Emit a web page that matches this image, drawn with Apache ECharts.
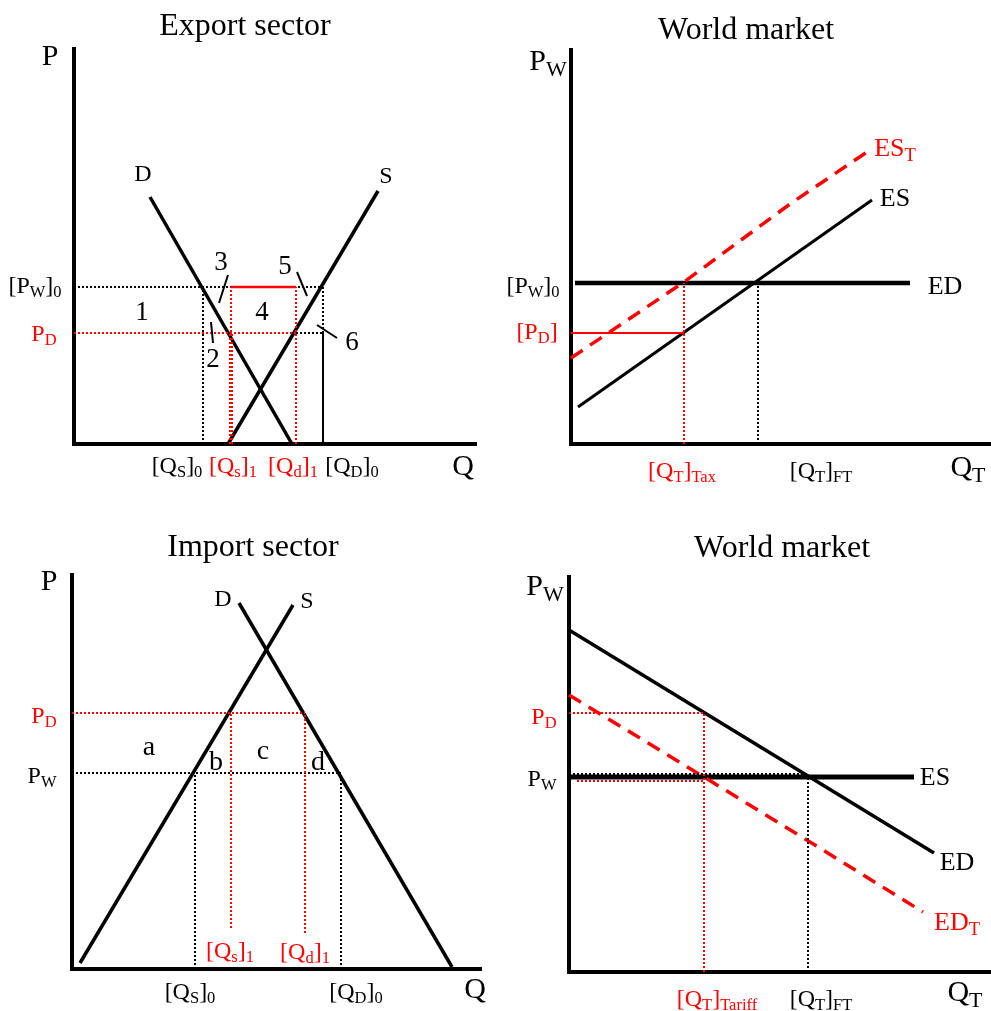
<!DOCTYPE html>
<html>
<head>
<meta charset="utf-8">
<script src="https://cdn.jsdelivr.net/npm/echarts@6/dist/echarts.min.js"></script>
<style>
  html, body { margin: 0; padding: 0; background: #fff; }
  #main { width: 991px; height: 1011px; }
</style>
</head>
<body>
<div id="main"></div>
<script>
// ---- data, in axis units (origin at the axis corner of each panel) ----
// Export sector
const expDemand = [[76, 247], [218, 0]];
const expSupply = [[154, 0], [304, 253]];
const expPrice = { pw0: 157, pd: 111 };
const expQty = { qs0: 129, qs1: 157, qd1: 222, qd0: 249 };

// World market (export tax)
const wm1ED = [[4, 161], [339, 161]];
const wm1ES = [[7, 37], [301, 244]];
const wm1EST = [[0, 86], [113, 162], [219, 240], [296, 292]];
const wm1Price = { pw0: 161, pd: 111 };
const wm1Qty = { tax: 113, ft: 187 };

// Import sector
const impSupply = [[8, 6], [221, 364]];
const impDemand = [[167, 366], [380, 2]];
const impPrice = { pd: 256, pw: 196 };
const impQty = { qs0: 123, qs1: 159, qd1: 233, qd0: 269 };

// World market (import tariff)
const wm2ED = [[0, 342], [365, 119]];
const wm2ES = [[0, 195], [345, 195]];
const wm2EDT = [[0, 277], [135, 195], [241, 130], [354, 60]];
const wm2Price = { pd: 259, pw: 195 };
const wm2Qty = { tariff: 135, ft: 239 };

const titles = ['Export sector', 'World market', 'Import sector', 'World market'];

// ---- styling ----
const FONT = '"Liberation Serif", "Times New Roman", serif';
const RED = '#ff0000';
function rs(size, color, padTop) {
  const s = { fontFamily: FONT, fontSize: size, color: color, opacity: 1 };
  if (padTop) s.padding = [padTop, 0, 0, 0];
  return s;
}
const RICH = {
  t: rs(24, '#000'), ts: rs(16.5, '#000', 12),
  rt: rs(24, RED), rts: rs(16.5, RED, 12),
  ax: rs(30, '#000'), axs: rs(22, '#000', 17),
  c: rs(26, '#000'), cs: rs(18.5, '#000', 15),
  rc: rs(26, RED), rcs: rs(18.5, RED, 15),
  n: rs(27, '#000'),
  l: rs(28, '#000')
};

const grids = [
  { left: 74, top: 49, width: 401, height: 395 },
  { left: 571, top: 50, width: 420, height: 394 },
  { left: 72, top: 575, width: 408, height: 394 },
  { left: 569, top: 577, width: 422, height: 395 }
];
const titlePos = [[240, 6], [741, 10], [248, 527], [777, 528]];

function axis(i, max) {
  return {
    type: 'value', gridIndex: i, min: 0, max: max,
    axisLine: { show: true, onZero: false, lineStyle: { color: '#000', width: 4, cap: 'square' } },
    axisTick: { show: false }, axisLabel: { show: false }, splitLine: { show: false }
  };
}

function line(i, data, color, width, type) {
  return {
    type: 'line', xAxisIndex: i, yAxisIndex: i, data: data, symbol: 'none',
    silent: true, clip: false,
    lineStyle: { color: color, width: width, type: type || 'solid' }
  };
}
const DOT = [2, 2];
const DASH = [14, 9];

function texts(i, items) {
  return {
    type: 'scatter', xAxisIndex: i, yAxisIndex: i, symbolSize: 1, clip: false, silent: true,
    itemStyle: { color: '#000', opacity: 0 },
    data: items.map(t => ({ name: t[2], value: [t[0], t[1]] })),
    label: {
      show: true, position: [0.5, 0.5], align: 'center', verticalAlign: 'middle',
      formatter: '{b}', color: '#000', opacity: 1, textBorderWidth: 0, rich: RICH
    },
    z: 10
  };
}

const series = [];

// Panel 0: export sector
(function () {
  const P = expPrice, Q = expQty;
  series.push(
    line(0, expDemand, '#000', 3.5),
    line(0, expSupply, '#000', 3.5),
    line(0, [[0, P.pw0], [Q.qd0, P.pw0]], '#000', 2, DOT),
    line(0, [[0, P.pd], [Q.qd1, P.pd]], RED, 2, DOT),
    line(0, [[Q.qd1, P.pd], [Q.qd0, P.pd]], '#000', 2, DOT),
    line(0, [[Q.qs1, P.pw0], [Q.qd1, P.pw0]], RED, 2.5),
    line(0, [[Q.qs0, 0], [Q.qs0, P.pw0]], '#000', 2, DOT),
    line(0, [[Q.qs1, 0], [Q.qs1, P.pw0]], RED, 2, DOT),
    line(0, [[Q.qs1, 0], [Q.qs1, P.pd]], RED, 4, DOT),
    line(0, [[Q.qd1, 0], [Q.qd1, P.pw0]], RED, 2, DOT),
    line(0, [[Q.qd0, P.pd], [Q.qd0, P.pw0]], '#000', 2, DOT),
    line(0, [[Q.qd0, 0], [Q.qd0, P.pd]], '#000', 2),
    // leader lines for the area numbers
    line(0, [[154, 169], [145, 141]], '#000', 2),
    line(0, [[223, 172], [233, 148]], '#000', 2),
    line(0, [[137, 122], [139, 101]], '#000', 2),
    line(0, [[243, 119], [263, 106]], '#000', 2),
    texts(0, [
      [69, 269, '{t|D}'], [312, 267, '{t|S}'],
      [68, 131, '{n|1}'], [139, 84, '{n|2}'], [147, 181, '{n|3}'],
      [188, 131, '{n|4}'], [211, 177, '{n|5}'], [278, 101, '{n|6}'],
      [-24, 387, '{ax|P}'], [389, -23, '{ax|Q}'],
      [-39, 157, '{t|[P}{ts|W}{t|]}{ts|0}'], [-30, 109, '{rt|P}{rts|D}'],
      [103, -23, '{t|[Q}{ts|S}{t|]}{ts|0}'], [159, -23, '{rt|[Q}{rts|s}{rt|]}{rts|1}'],
      [219, -23, '{rt|[Q}{rts|d}{rt|]}{rts|1}'], [278, -23, '{t|[Q}{ts|D}{t|]}{ts|0}']
    ])
  );
})();

// Panel 1: world market, export tax
(function () {
  const P = wm1Price, Q = wm1Qty;
  series.push(
    line(1, wm1ED, '#000', 4.5),
    line(1, wm1ES, '#000', 3),
    line(1, wm1EST, RED, 3.5, DASH),
    line(1, [[0, P.pd], [Q.tax, P.pd]], RED, 2),
    line(1, [[Q.tax, 0], [Q.tax, P.pw0]], RED, 2, DOT),
    line(1, [[Q.ft, 0], [Q.ft, P.pw0]], '#000', 2, DOT),
    texts(1, [
      [374, 157, '{c|ED}'], [324, 245, '{c|ES}'], [324, 295, '{rc|ES}{rcs|T}'],
      [-34, 111, '{rt|[P}{rts|D}{rt|]}'], [-38, 157, '{t|[P}{ts|W}{t|]}{ts|0}'],
      [-23, 382, '{ax|P}{axs|W}'], [397, -24, '{ax|Q}{axs|T}'],
      [111, -28, '{rt|[Q}{rts|T}{rt|]}{rts|Tax}'], [250, -28, '{t|[Q}{ts|T}{t|]}{ts|FT}']
    ])
  );
})();

// Panel 2: import sector
(function () {
  const P = impPrice, Q = impQty;
  series.push(
    line(2, impSupply, '#000', 3.5),
    line(2, impDemand, '#000', 3.5),
    line(2, [[0, P.pd], [Q.qd1, P.pd]], RED, 2, DOT),
    line(2, [[0, P.pw], [Q.qd0, P.pw]], '#000', 2, DOT),
    line(2, [[Q.qs0, 0], [Q.qs0, P.pw]], '#000', 2, DOT),
    line(2, [[Q.qs1, 41], [Q.qs1, P.pd]], RED, 2, DOT),
    line(2, [[Q.qd1, 36], [Q.qd1, P.pd]], RED, 2, DOT),
    line(2, [[Q.qd0, 0], [Q.qd0, P.pw]], '#000', 2, DOT),
    texts(2, [
      [151, 369, '{t|D}'], [235, 367, '{t|S}'],
      [77, 221, '{l|a}'], [144, 206, '{l|b}'], [191, 217, '{l|c}'], [246, 206, '{l|d}'],
      [-28, 252, '{rt|P}{rts|D}'], [-30, 192, '{t|P}{ts|W}'],
      [-23, 387, '{ax|P}'], [403, -21, '{ax|Q}'],
      [158, 17, '{rt|[Q}{rts|s}{rt|]}{rts|1}'], [233, 16, '{rt|[Q}{rts|d}{rt|]}{rts|1}'],
      [118, -24, '{t|[Q}{ts|S}{t|]}{ts|0}'], [284, -24, '{t|[Q}{ts|D}{t|]}{ts|0}']
    ])
  );
})();

// Panel 3: world market, import tariff
(function () {
  const P = wm2Price, Q = wm2Qty;
  series.push(
    line(3, wm2ED, '#000', 3.5),
    line(3, wm2ES, '#000', 5),
    line(3, wm2EDT, RED, 3.5, DASH),
    line(3, [[0, P.pd], [Q.tariff, P.pd]], RED, 2, DOT),
    line(3, [[Q.tariff, 0], [Q.tariff, P.pd]], RED, 2, DOT),
    line(3, [[0, P.pw + 3], [Q.ft, P.pw + 3]], '#000', 2, DOT),
    line(3, [[8, P.pw - 4], [Q.tariff, P.pw - 4]], RED, 2, DOT),
    line(3, [[Q.ft, 0], [Q.ft, P.pw]], '#000', 2, DOT),
    texts(3, [
      [388, 109, '{c|ED}'], [366, 194, '{c|ES}'], [388, 49, '{rc|ED}{rcs|T}'],
      [-25, 254, '{rt|P}{rts|D}'], [-27, 192, '{t|P}{ts|W}'],
      [-24, 385, '{ax|P}{axs|W}'], [396, -21, '{ax|Q}{axs|T}'],
      [148, -28, '{rt|[Q}{rts|T}{rt|]}{rts|Tariff}'], [252, -28, '{t|[Q}{ts|T}{t|]}{ts|FT}']
    ])
  );
})();

const option = {
  animation: false,
  backgroundColor: '#fff',
  title: titles.map((t, i) => ({
    text: t, left: titlePos[i][0], top: titlePos[i][1], textAlign: 'center',
    textStyle: { fontFamily: FONT, fontSize: 32, fontWeight: 'normal', color: '#000' }
  })),
  grid: grids,
  xAxis: grids.map((g, i) => axis(i, g.width)),
  yAxis: grids.map((g, i) => axis(i, g.height)),
  series: series
};

const chart = echarts.init(document.getElementById('main'), null, { renderer: 'canvas' });
chart.setOption(option);
</script>
</body>
</html>
